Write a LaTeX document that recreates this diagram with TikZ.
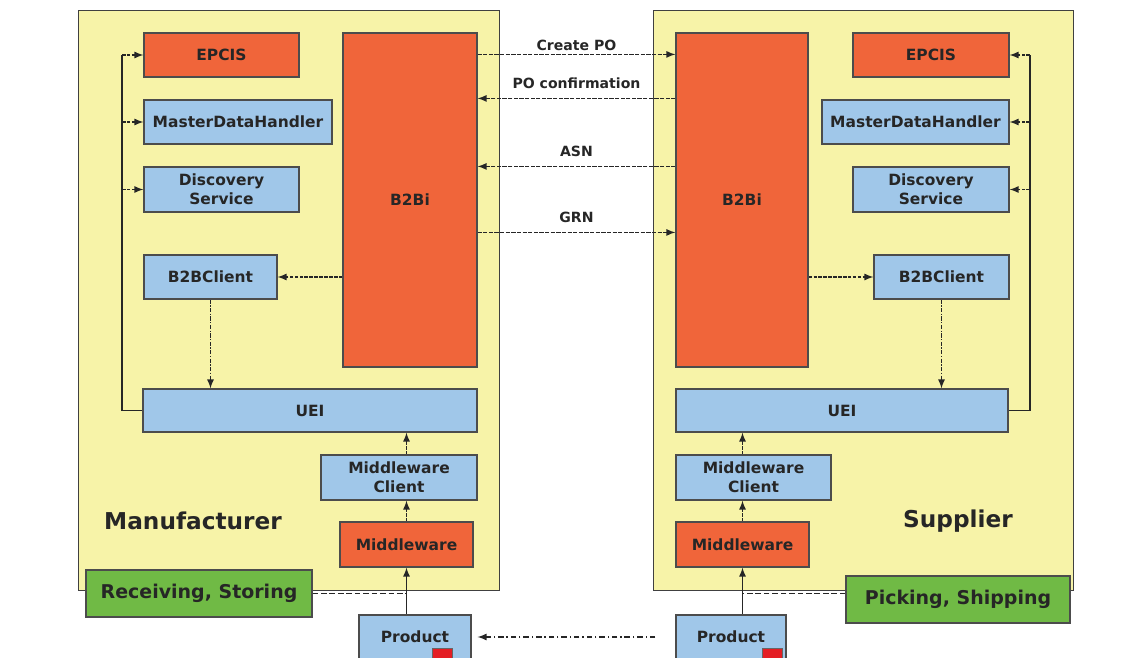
\documentclass[tikz,border=0pt]{standalone}
\usepackage{fontspec}
\setmainfont{DejaVu Sans}
\usepackage{tikz}
\usetikzlibrary{arrows}
\definecolor{panelyellow}{RGB}{247,243,168}
\definecolor{moduleblue}{RGB}{160,199,233}
\definecolor{coreorange}{RGB}{240,101,58}
\definecolor{activitygreen}{RGB}{112,186,69}
\definecolor{tagred}{RGB}{228,30,36}
\tikzstyle{Panel}=[fill=panelyellow, draw=black!75, line width=0.6pt]
\tikzstyle{Module}=[draw=black!70, line width=0.8pt, fill=moduleblue, align=center, inner sep=2pt, font=\fontsize{11}{13.5}\selectfont\bfseries, text=black!85]
\tikzstyle{Core}=[Module, fill=coreorange]
\tikzstyle{Activity}=[Module, fill=activitygreen, font=\fontsize{13.5}{16}\selectfont\bfseries]
\tikzstyle{Party}=[font=\fontsize{16.5}{20}\selectfont\bfseries, text=black!85]
\tikzstyle{Tag}=[draw=black!60, fill=tagred, minimum width=0.5cm, minimum height=0.5cm, inner sep=0pt]
\tikzstyle{message}=[->, line width=1.2pt, dash pattern=on 3pt off 1pt, draw=black!85]
\tikzstyle{call}=[->, line width=1.2pt, dash pattern=on 2.5pt off 1pt, draw=black!85]
\tikzstyle{flow}=[->, line width=1.2pt, draw=black!85]
\pgfdeclarelayer{panellayer}
\pgfdeclarelayer{nodelayer}
\pgfdeclarelayer{edgelayer}
\pgfsetlayers{panellayer, edgelayer, nodelayer, main}

\begin{document}
\begin{tikzpicture}[x=0.025cm, y=-0.025cm, >=latex]
	\useasboundingbox (0,0) rectangle (1140,658);
	\begin{pgfonlayer}{panellayer}
		\draw [style=Panel] (78,10) rectangle (499,590);
		\draw [style=Panel] (653,10) rectangle (1073,590);
	\end{pgfonlayer}
	\begin{pgfonlayer}{nodelayer}
		% manufacturer
		\node [style=Core, minimum width=3.875cm, minimum height=1.1cm] (epcisL) at (221.5,55) {EPCIS};
		\node [style=Module, minimum width=4.7cm, minimum height=1.1cm] (mdhL) at (238,122) {MasterDataHandler};
		\node [style=Module, minimum width=3.875cm, minimum height=1.125cm] (dsL) at (221.5,189.5) {Discovery\\Service};
		\node [style=Module, minimum width=3.325cm, minimum height=1.1cm] (clientL) at (210.5,277) {B2BClient};
		\node [style=Core, minimum width=3.35cm, minimum height=8.35cm] (b2biL) at (410,200) {B2Bi};
		\node [style=Module, minimum width=8.35cm, minimum height=1.075cm] (ueiL) at (310,410.5) {UEI};
		\node [style=Module, minimum width=3.9cm, minimum height=1.125cm] (mwcL) at (399,477.5) {Middleware\\Client};
		\node [style=Core, minimum width=3.325cm, minimum height=1.125cm] (mwL) at (406.5,544.5) {Middleware};
		\node [style=Party] (manufacturer) at (193,521) {Manufacturer};
		\node [style=Activity, minimum width=5.65cm, minimum height=1.175cm] (receiving) at (199,593.5) {Receiving, Storing};
		\node [style=Module, minimum width=2.8cm, minimum height=1.1cm] (prodL) at (415,637) {Product};
		\node [style=Tag] (tagL) at (442.5,658) {};
		% supplier
		\node [style=Core, minimum width=3.3cm, minimum height=8.35cm] (b2biR) at (742,200) {B2Bi};
		\node [style=Core, minimum width=3.9cm, minimum height=1.1cm] (epcisR) at (931,55) {EPCIS};
		\node [style=Module, minimum width=4.675cm, minimum height=1.1cm] (mdhR) at (915.5,122) {MasterDataHandler};
		\node [style=Module, minimum width=3.9cm, minimum height=1.125cm] (dsR) at (931,189.5) {Discovery\\Service};
		\node [style=Module, minimum width=3.375cm, minimum height=1.1cm] (clientR) at (941.5,277) {B2BClient};
		\node [style=Module, minimum width=8.3cm, minimum height=1.075cm] (ueiR) at (842,410.5) {UEI};
		\node [style=Module, minimum width=3.875cm, minimum height=1.125cm] (mwcR) at (753.5,477.5) {Middleware\\Client};
		\node [style=Core, minimum width=3.325cm, minimum height=1.125cm] (mwR) at (742.5,544.5) {Middleware};
		\node [style=Party] (supplier) at (958,521) {Supplier};
		\node [style=Activity, minimum width=5.6cm, minimum height=1.175cm] (picking) at (958,599.5) {Picking, Shipping};
		\node [style=Module, minimum width=2.75cm, minimum height=1.1cm] (prodR) at (731,637) {Product};
		\node [style=Tag] (tagR) at (772,658) {};
		\coordinate (busL) at (122,55);
		\coordinate (busR) at (1030,55);
	\end{pgfonlayer}
	\begin{pgfonlayer}{edgelayer}
		% b2b messages
		\draw [style=message] ([yshift=-0.55cm]b2biL.north east) -- ([yshift=-0.55cm]b2biR.north west) node [midway, above=-1pt, font=\fontsize{10}{12}\selectfont\bfseries, text=black!85] {Create PO};
		\draw [style=message] ([yshift=-1.65cm]b2biR.north west) -- ([yshift=-1.65cm]b2biL.north east) node [midway, above=3pt, font=\fontsize{10}{12}\selectfont\bfseries, text=black!85] {PO confirmation};
		\draw [style=message] ([yshift=-3.35cm]b2biR.north west) -- ([yshift=-3.35cm]b2biL.north east) node [midway, above=3pt, font=\fontsize{10}{12}\selectfont\bfseries, text=black!85] {ASN};
		\draw [style=message] ([yshift=-5cm]b2biL.north east) -- ([yshift=-5cm]b2biR.north west) node [midway, above=3pt, font=\fontsize{10}{12}\selectfont\bfseries, text=black!85] {GRN};

		% manufacturer side
		\draw [line width=1.2pt, draw=black!85] (ueiL.west) -| (busL);
		\draw [style=call] (busL) -- (epcisL.west);
		\draw [style=call] (mdhL.west -| busL) -- (mdhL.west);
		\draw [style=call] (dsL.west -| busL) -- (dsL.west);
		\draw [style=call] (b2biL.west |- clientL) -- (clientL.east);
		\draw [style=call, dash pattern=on 3pt off 1pt on 1pt off 1pt] (clientL.south) -- (clientL.south |- ueiL.north);
		\draw [style=call] (mwcL.north -| mwL) -- (ueiL.south -| mwL);
		\draw [style=call] (mwL.north) -- (mwcL.south -| mwL);
		\draw [style=flow] (prodL.north -| mwL) -- (mwL.south);
		\draw [line width=1.2pt, dash pattern=on 4pt off 2pt, draw=black!85] (receiving.east) -- (receiving.east -| mwL);

		% supplier side
		\draw [line width=1.2pt, draw=black!85] (ueiR.east) -| (busR);
		\draw [style=call] (busR) -- (epcisR.east);
		\draw [style=call] (mdhR.east -| busR) -- (mdhR.east);
		\draw [style=call] (dsR.east -| busR) -- (dsR.east);
		\draw [style=call] (b2biR.east |- clientR) -- (clientR.west);
		\draw [style=call, dash pattern=on 3pt off 1pt on 1pt off 1pt] (clientR.south) -- (clientR.south |- ueiR.north);
		\draw [style=call] (mwcR.north -| mwR) -- (ueiR.south -| mwR);
		\draw [style=call] (mwR.north) -- (mwcR.south -| mwR);
		\draw [style=flow] (prodR.north -| mwR) -- (mwR.south);
		\draw [line width=1.2pt, dash pattern=on 4pt off 2pt, draw=black!85] ([yshift=0.15cm]picking.west) -- ([yshift=0.15cm]picking.west -| mwR);

		% goods
		\draw [style=call, dash pattern=on 4pt off 2pt on 1pt off 2pt, shorten <=0.5cm, shorten >=0.15cm] (prodR.west) -- (prodL.east);
	\end{pgfonlayer}
\end{tikzpicture}
\end{document}
